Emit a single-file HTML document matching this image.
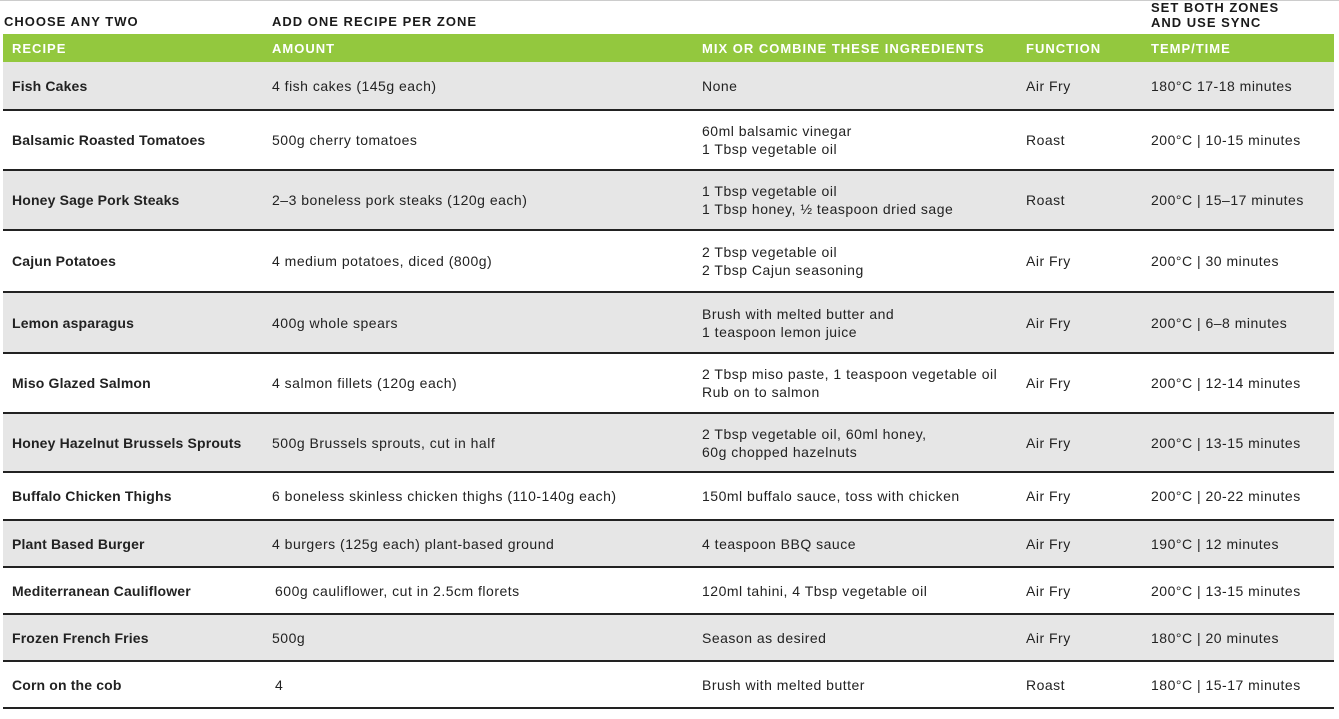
<!DOCTYPE html>
<html><head><meta charset="utf-8"><style>
body{margin:0;width:1339px;height:719px;background:#fff;font-family:"Liberation Sans",sans-serif;color:#222;position:relative;overflow:hidden}
.top{position:absolute;left:0;top:0;width:1339px;height:1px;background:#ccc}
.t{position:absolute;font-size:13px;font-weight:bold;color:#1a1a1a;line-height:15px;letter-spacing:1px}
.g{position:absolute;left:3px;width:1331px;top:34px;height:28px;background:#93c83e}
.h{position:absolute;top:41px;font-size:13px;font-weight:bold;color:#fff;letter-spacing:1px}
.r{position:absolute;left:3px;width:1331px;border-bottom:2px solid #222;box-sizing:border-box}
.c{position:absolute;font-size:14px;line-height:18px;color:#222;top:50%;transform:translateY(-50%);letter-spacing:0.5px;white-space:nowrap}
.b{font-weight:bold;letter-spacing:0.15px}
</style></head><body>
<div class="top"></div>
<div class="t" style="left:4px;top:14px">CHOOSE ANY TWO</div>
<div class="t" style="left:272px;top:14px">ADD ONE RECIPE PER ZONE</div>
<div class="t" style="left:1151px;top:0px">SET BOTH ZONES<br>AND USE SYNC</div>
<div class="g"></div>
<div class="h" style="left:12px">RECIPE</div>
<div class="h" style="left:272px">AMOUNT</div>
<div class="h" style="left:702px">MIX OR COMBINE THESE INGREDIENTS</div>
<div class="h" style="left:1026px">FUNCTION</div>
<div class="h" style="left:1151px">TEMP/TIME</div>

<div class="r" style="top:62px;height:49px;background:#e6e6e6"><div class="c b" style="left:9px">Fish Cakes</div><div class="c" style="left:269px">4 fish cakes (145g each)</div><div class="c" style="left:699px">None</div><div class="c" style="left:1023px">Air Fry</div><div class="c" style="left:1148px">180°C 17-18 minutes</div></div>
<div class="r" style="top:111px;height:60px;background:#fff"><div class="c b" style="left:9px">Balsamic Roasted Tomatoes</div><div class="c" style="left:269px">500g cherry tomatoes</div><div class="c" style="left:699px">60ml balsamic vinegar<br>1 Tbsp vegetable oil</div><div class="c" style="left:1023px">Roast</div><div class="c" style="left:1148px">200°C | 10-15 minutes</div></div>
<div class="r" style="top:171px;height:60px;background:#e6e6e6"><div class="c b" style="left:9px">Honey Sage Pork Steaks</div><div class="c" style="left:269px">2–3 boneless pork steaks (120g each)</div><div class="c" style="left:699px">1 Tbsp vegetable oil<br>1 Tbsp honey, ½ teaspoon dried sage</div><div class="c" style="left:1023px">Roast</div><div class="c" style="left:1148px">200°C | 15–17 minutes</div></div>
<div class="r" style="top:231px;height:62px;background:#fff"><div class="c b" style="left:9px">Cajun Potatoes</div><div class="c" style="left:269px">4 medium potatoes, diced (800g)</div><div class="c" style="left:699px">2 Tbsp vegetable oil<br>2 Tbsp Cajun seasoning</div><div class="c" style="left:1023px">Air Fry</div><div class="c" style="left:1148px">200°C | 30 minutes</div></div>
<div class="r" style="top:293px;height:61px;background:#e6e6e6"><div class="c b" style="left:9px">Lemon asparagus</div><div class="c" style="left:269px">400g whole spears</div><div class="c" style="left:699px">Brush with melted butter and<br>1 teaspoon lemon juice</div><div class="c" style="left:1023px">Air Fry</div><div class="c" style="left:1148px">200°C | 6–8 minutes</div></div>
<div class="r" style="top:354px;height:60px;background:#fff"><div class="c b" style="left:9px">Miso Glazed Salmon</div><div class="c" style="left:269px">4 salmon fillets (120g each)</div><div class="c" style="left:699px">2 Tbsp miso paste, 1 teaspoon vegetable oil<br>Rub on to salmon</div><div class="c" style="left:1023px">Air Fry</div><div class="c" style="left:1148px">200°C | 12-14 minutes</div></div>
<div class="r" style="top:414px;height:59px;background:#e6e6e6"><div class="c b" style="left:9px">Honey Hazelnut Brussels Sprouts</div><div class="c" style="left:269px">500g Brussels sprouts, cut in half</div><div class="c" style="left:699px">2 Tbsp vegetable oil, 60ml honey,<br>60g chopped hazelnuts</div><div class="c" style="left:1023px">Air Fry</div><div class="c" style="left:1148px">200°C | 13-15 minutes</div></div>
<div class="r" style="top:473px;height:48px;background:#fff"><div class="c b" style="left:9px">Buffalo Chicken Thighs</div><div class="c" style="left:269px">6 boneless skinless chicken thighs (110-140g each)</div><div class="c" style="left:699px">150ml buffalo sauce, toss with chicken</div><div class="c" style="left:1023px">Air Fry</div><div class="c" style="left:1148px">200°C | 20-22 minutes</div></div>
<div class="r" style="top:521px;height:47px;background:#e6e6e6"><div class="c b" style="left:9px">Plant Based Burger</div><div class="c" style="left:269px">4 burgers (125g each) plant-based ground</div><div class="c" style="left:699px">4 teaspoon BBQ sauce</div><div class="c" style="left:1023px">Air Fry</div><div class="c" style="left:1148px">190°C | 12 minutes</div></div>
<div class="r" style="top:568px;height:47px;background:#fff"><div class="c b" style="left:9px">Mediterranean Cauliflower</div><div class="c" style="left:272px">600g cauliflower, cut in 2.5cm florets</div><div class="c" style="left:699px">120ml tahini, 4 Tbsp vegetable oil</div><div class="c" style="left:1023px">Air Fry</div><div class="c" style="left:1148px">200°C | 13-15 minutes</div></div>
<div class="r" style="top:615px;height:47px;background:#e6e6e6"><div class="c b" style="left:9px">Frozen French Fries</div><div class="c" style="left:269px">500g</div><div class="c" style="left:699px">Season as desired</div><div class="c" style="left:1023px">Air Fry</div><div class="c" style="left:1148px">180°C | 20 minutes</div></div>
<div class="r" style="top:662px;height:47px;background:#fff"><div class="c b" style="left:9px">Corn on the cob</div><div class="c" style="left:272px">4</div><div class="c" style="left:699px">Brush with melted butter</div><div class="c" style="left:1023px">Roast</div><div class="c" style="left:1148px">180°C | 15-17 minutes</div></div>
</body></html>
